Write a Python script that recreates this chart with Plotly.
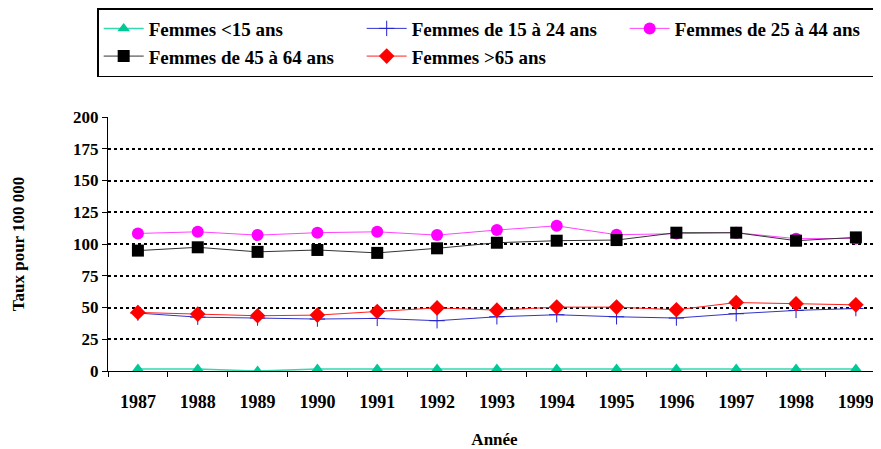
import plotly.graph_objects as go

years = ["1987", "1988", "1989", "1990", "1991", "1992", "1993",
         "1994", "1995", "1996", "1997", "1998", "1999"]

f_lt15 = [1.5, 1.5, 0.0, 1.5, 1.5, 1.5, 1.5, 1.5, 1.5, 1.5, 1.5, 1.5, 1.5]
f_15_24 = [45.6, 42.4, 41.7, 40.9, 41.4, 39.6, 42.7, 44.3, 42.7, 41.7, 45.1, 47.7, 49.2]
f_25_44 = [108.3, 109.6, 107.0, 108.9, 109.6, 107.0, 111.0, 114.3, 107.3, 108.3, 108.9, 104.2, 104.4]
f_45_64 = [94.8, 97.4, 93.8, 95.3, 93.0, 96.6, 101.0, 102.6, 103.1, 108.9, 108.9, 102.6, 105.2]
f_gt65 = [46.1, 44.8, 43.5, 44.0, 46.9, 49.7, 47.9, 50.3, 50.3, 48.2, 53.9, 52.9, 52.1]

FONT = "Liberation Serif"

fig = go.Figure()
fig.add_trace(go.Scatter(x=years, y=f_lt15, name="Femmes <15 ans", mode="lines+markers",
                         line=dict(color="#33d9b0", width=1.5),
                         marker=dict(symbol="triangle-up", size=11, color="#00c896")))
fig.add_trace(go.Scatter(x=years, y=f_15_24, name="Femmes de 15 à 24 ans", mode="lines+markers",
                         line=dict(color="#3333cc", width=1),
                         marker=dict(symbol="cross-thin", size=11, color="#2222cc",
                                     line=dict(color="#2222cc", width=1))))
fig.add_trace(go.Scatter(x=years, y=f_25_44, name="Femmes de 25 à 44 ans", mode="lines+markers",
                         line=dict(color="#ff44ff", width=1),
                         marker=dict(symbol="circle", size=12, color="#ff00ff")))
fig.add_trace(go.Scatter(x=years, y=f_45_64, name="Femmes de 45 à 64 ans", mode="lines+markers",
                         line=dict(color="#333333", width=1),
                         marker=dict(symbol="square", size=12, color="#000000")))
fig.add_trace(go.Scatter(x=years, y=f_gt65, name="Femmes >65 ans", mode="lines+markers",
                         line=dict(color="#ff2020", width=1),
                         marker=dict(symbol="diamond", size=12, color="#ff0000")))

fig.update_layout(
    width=873, height=441,
    margin=dict(l=100, r=0, t=109, b=78, autoexpand=False),
    paper_bgcolor="white", plot_bgcolor="white",
    font=dict(family=FONT, size=17, color="black", weight="bold"),
    showlegend=True,
    legend=dict(orientation="h", x=-0.014, y=1.429, xanchor="left", yanchor="top",
                entrywidth=208, entrywidthmode="pixels",
                bordercolor="black", borderwidth=1.5, bgcolor="white",
                font=dict(family=FONT, size=19, color="black", weight="bold"),
                itemwidth=40),
    xaxis=dict(type="category", range=[-0.5, 12.42],
               showline=True, linecolor="black", linewidth=1,
               ticks="outside", tickson="boundaries", ticklen=5, tickcolor="black",
               ticklabelstandoff=14,
               showgrid=False, tickfont=dict(family=FONT, size=18, weight="bold"),
               title=dict(text="Année", font=dict(family=FONT, size=17, weight="bold"), standoff=22)),
    yaxis=dict(range=[0, 200], tickvals=[0, 25, 50, 75, 100, 125, 150, 175, 200],
               showline=True, linecolor="black", linewidth=1,
               ticks="outside", ticklen=5, tickcolor="black",
               showgrid=True, gridcolor="black", griddash="dot", gridwidth=1.5,
               zeroline=False,
               tickfont=dict(family=FONT, size=17, weight="bold"),
               title=dict(text="Taux pour 100 000", font=dict(family=FONT, size=17, weight="bold"), standoff=44)),
)

fig.write_html("out.html")
